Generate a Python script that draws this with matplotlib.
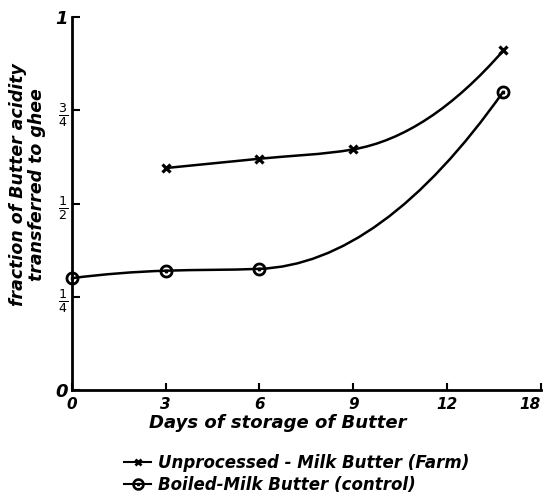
import numpy as np
import matplotlib
matplotlib.use("Agg")
import matplotlib.pyplot as plt
from matplotlib.path import Path
from matplotlib.patches import PathPatch
from matplotlib.lines import Line2D

# データ
days_farm = [3, 6, 9, 13.8]
frac_farm = [0.595, 0.62, 0.645, 0.91]
days_ctrl = [0, 3, 6, 13.8]
frac_ctrl = [0.30, 0.32, 0.325, 0.80]

xticks = [0, 3, 6, 9, 12, 15]
xticklabels = ['0', '3', '6', '9', '12', '18']
yticks = [0, 0.25, 0.5, 0.75, 1.0]
yticklabels = ['0', r'$\frac{1}{4}$', r'$\frac{1}{2}$', r'$\frac{3}{4}$', '1']

FONT = dict(family='DejaVu Sans', style='italic', weight='bold')


def smooth_path(x, y):
    # 点を通る滑らかな曲線（ベジェ曲線）
    x = np.asarray(x, float)
    y = np.asarray(y, float)
    s = np.diff(y) / np.diff(x)
    m = np.zeros(len(x))
    for i in range(1, len(x) - 1):
        if s[i - 1] * s[i] > 0:
            m[i] = 2 / (1 / s[i - 1] + 1 / s[i])
    m[0] = max(2 * s[0] - m[1], 0)
    m[-1] = max(2 * s[-1] - m[-2], 0)
    verts = [(x[0], y[0])]
    codes = [Path.MOVETO]
    for i in range(len(x) - 1):
        h = x[i + 1] - x[i]
        verts += [(x[i] + h / 3, y[i] + m[i] * h / 3),
                  (x[i + 1] - h / 3, y[i + 1] - m[i + 1] * h / 3),
                  (x[i + 1], y[i + 1])]
        codes += [Path.CURVE4] * 3
    return Path(verts, codes)


fig = plt.figure(figsize=(5.48, 4.97), dpi=100)
ax = fig.add_axes([0.131, 0.215, 0.856, 0.751])

for xs, ys in [(days_farm, frac_farm), (days_ctrl, frac_ctrl)]:
    ax.add_patch(PathPatch(smooth_path(xs, ys), facecolor='none',
                           edgecolor='black', lw=1.8))

ax.plot(days_farm, frac_farm, ls='none', marker='x', ms=6, mew=2.3,
        color='black', clip_on=False)
ax.plot(days_ctrl, frac_ctrl, ls='none', marker=r'$\odot$', ms=9,
        color='black', clip_on=False)

ax.set_xlim(0, 15)
ax.set_ylim(0, 1)
ax.spines['top'].set_visible(False)
ax.spines['right'].set_visible(False)
ax.spines['left'].set_linewidth(2)
ax.spines['bottom'].set_linewidth(2)
ax.set_xticks(xticks)
ax.set_xticklabels(xticklabels, fontsize=11, **FONT)
ax.xaxis.get_majorticklabels()[-1].set_horizontalalignment('right')
ax.set_yticks(yticks)
ax.set_yticklabels(yticklabels, fontsize=13, **FONT)
ax.tick_params(axis='x', direction='in', length=5, width=1.5, pad=5)
ax.tick_params(axis='y', direction='in', length=6, width=1.5, pad=3)

ax.set_xlabel('Days of storage of Butter', fontsize=13, labelpad=2, **FONT)
ax.xaxis.set_label_coords(0.44, -0.065)
ax.xaxis.label.set_verticalalignment('top')
ax.set_ylabel('fraction of Butter acidity\ntransferred to ghee',
              fontsize=12.5, linespacing=1.05, **FONT)
ax.yaxis.set_label_coords(-0.055, 0.55)

handles = [Line2D([], [], color='black', lw=1.5, marker='x', ms=5, mew=2),
           Line2D([], [], color='black', lw=1.5, marker=r'$\odot$', ms=8)]
labels = ['Unprocessed - Milk Butter (Farm)', 'Boiled-Milk Butter (control)']
fig.legend(handles, labels, loc='upper left', bbox_to_anchor=(0.215, 0.1),
           frameon=False, handlelength=1.6, handletextpad=0.4,
           labelspacing=0.25, borderaxespad=0,
           prop=dict(size=12, **FONT))

fig.savefig('out.png', dpi=100)
